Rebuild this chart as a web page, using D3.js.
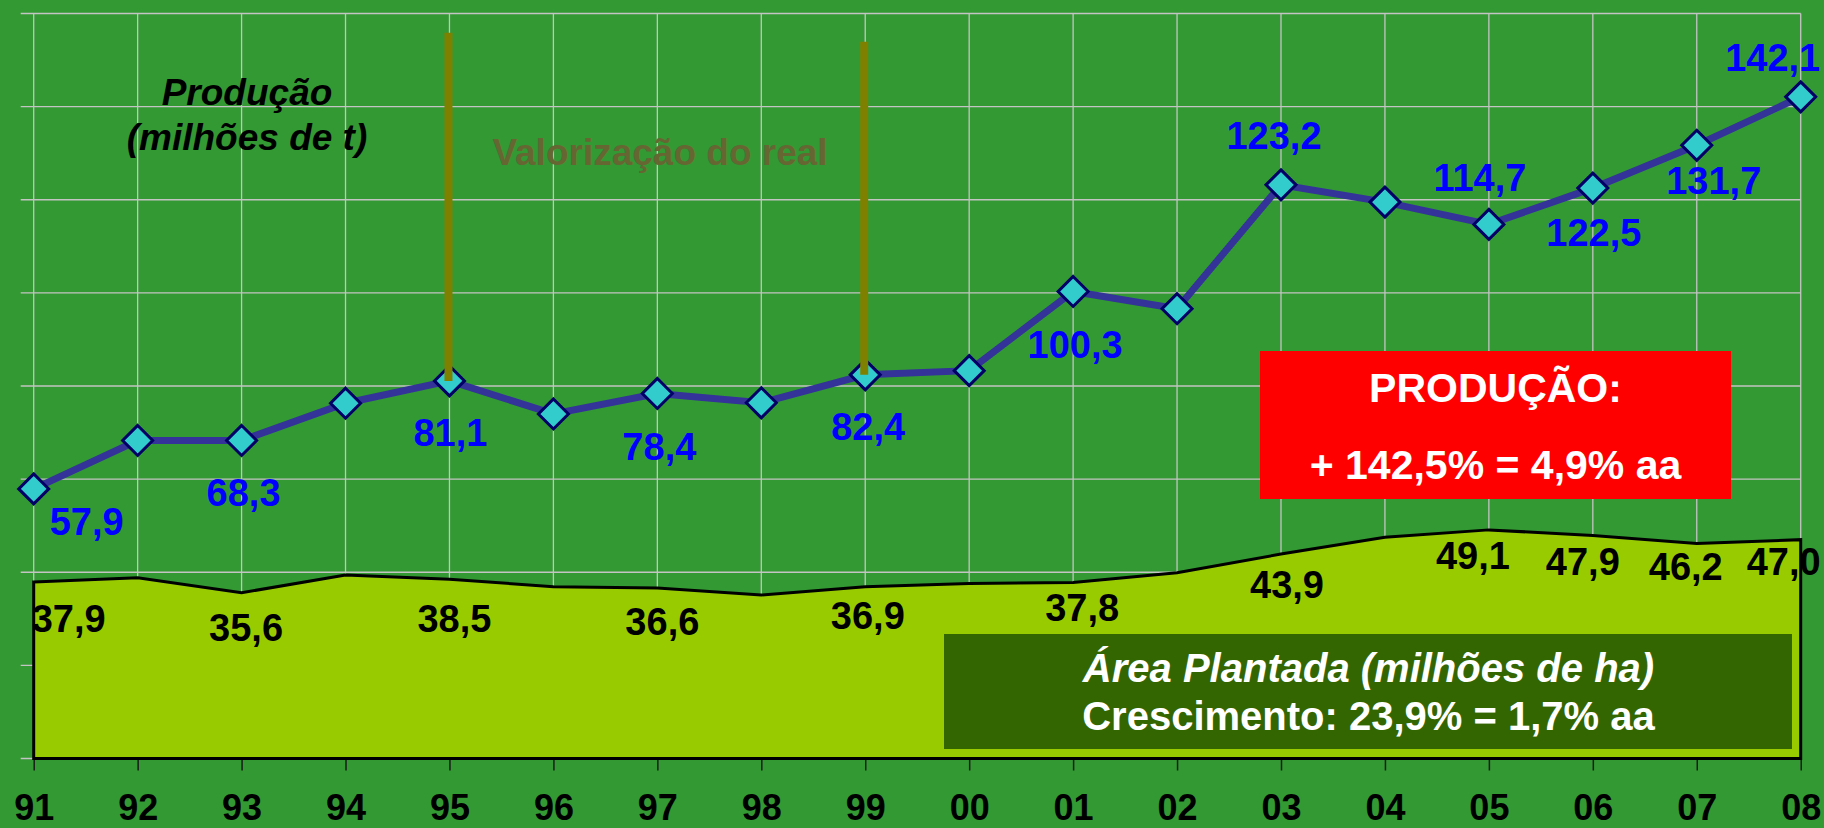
<!DOCTYPE html>
<html>
<head>
<meta charset="utf-8">
<script src="https://cdn.jsdelivr.net/npm/d3@7"></script>
<style>
  html, body { margin: 0; padding: 0; background: #339933; overflow: hidden; }
  svg { display: block; font-family: "Liberation Sans", Arial, sans-serif; }
</style>
</head>
<body>
<svg id="chart" width="1824" height="828"></svg>
<script>
// ---------- data ----------
const years = ["91","92","93","94","95","96","97","98","99","00","01","02","03","04","05","06","07","08"];
const production = [57.9, 68.3, 68.3, 76.3, 81.1, 74.0, 78.4, 76.4, 82.4, 83.3, 100.3, 96.6, 123.2, 119.5, 114.7, 122.5, 131.7, 142.1];
const area = [37.9, 38.8, 35.6, 39.4, 38.5, 36.9, 36.6, 35.1, 36.9, 37.6, 37.8, 39.9, 43.9, 47.5, 49.1, 47.9, 46.2, 47.0];
const yTicks = [0, 20, 40, 60, 80, 100, 120, 140, 160];
const labeledProdYears = ["91","93","95","97","99","01","03","05","06","07","08"];
const labeledAreaYears = ["91","93","95","97","99","01","03","05","06","07","08"];
const markerYears = ["95", "99"];
const prodTitle = ["Produção", "(milhões de t)"];
const valorizacao = "Valorização do real";
const redBoxLines = ["PRODUÇÃO:", "+ 142,5% = 4,9% aa"];
const greenBoxLines = ["Área Plantada (milhões de ha)", "Crescimento: 23,9% = 1,7% aa"];

// ---------- layout (label offsets relative to the point) ----------
const prodLabelOffset = {
  "91": [53, 46], "93": [2, 66], "95": [1, 65], "97": [2, 66.5], "99": [3, 65],
  "01": [2, 66.5], "03": [-7, -36], "05": [-9, -33], "06": [1, 57.6], "07": [17, 49], "08": [-28, -26]
};
const areaLabelOffset = {
  "91": [35, 50], "93": [4.5, 48], "95": [5, 52.5], "97": [5, 47], "99": [2.6, 42.6],
  "01": [9, 38.5], "03": [6, 44], "05": [-16, 39.4], "06": [-10, 39.5], "07": [-11, 36.6], "08": [-17, 35]
};

const svg = d3.select("#chart");
const W = 1824, H = 828;
const x0 = 33.7, x1 = 1800.7, yTop = 13.5, yBot = 758.5;

const x = d3.scalePoint().domain(years).range([x0, x1]);
const y = d3.scaleLinear().domain([0, 160]).range([yBot, yTop]);

svg.append("rect").attr("width", W).attr("height", H).attr("fill", "#339933");

// grid
const grid = svg.append("g").attr("stroke", "#c4c4c4").attr("stroke-width", 1.3);
grid.selectAll("line.h").data(yTicks).join("line")
  .attr("x1", x0 - 13).attr("x2", x1)
  .attr("y1", d => y(d)).attr("y2", d => y(d));
grid.selectAll("line.v").data(years).join("line")
  .attr("x1", d => x(d)).attr("x2", d => x(d))
  .attr("y1", yTop).attr("y2", yBot);

// bottom axis (ticks + labels)
const xAxis = d3.axisBottom(x).tickSize(12).tickSizeOuter(0);
const gx = svg.append("g").attr("transform", `translate(0,${yBot})`).call(xAxis);
gx.select(".domain").remove();
gx.selectAll(".tick line").attr("stroke", "#1a1a1a").attr("stroke-width", 1.5);
gx.selectAll(".tick text")
  .attr("y", 820 - yBot).attr("dy", 0)
  .attr("fill", "#000").attr("font-size", 36).attr("font-weight", "bold")
  .attr("font-family", "Liberation Sans, Arial, sans-serif");

// area
const areaGen = d3.area().x((d, i) => x(years[i])).y0(y(0)).y1(d => y(d));
svg.append("path").datum(area)
  .attr("d", areaGen)
  .attr("fill", "#99cc00")
  .attr("stroke", "#000").attr("stroke-width", 3).attr("stroke-linejoin", "miter");

// production line
const lineGen = d3.line().x((d, i) => x(years[i])).y(d => y(d));
svg.append("path").datum(production)
  .attr("d", lineGen)
  .attr("fill", "none").attr("stroke", "#333399").attr("stroke-width", 7);

// markers
const r = 15;
svg.append("g").selectAll("path").data(production).join("path")
  .attr("transform", (d, i) => `translate(${x(years[i])},${y(d)})`)
  .attr("d", `M0,${-r}L${r},0L0,${r}L${-r},0Z`)
  .attr("fill", "#33cccc").attr("stroke", "#000066").attr("stroke-width", 3);

// olive vertical lines (valorização do real)
const oliveTop = { "95": 32.7, "99": 41.7 };
svg.append("g").selectAll("line").data(markerYears).join("line")
  .attr("x1", d => x(d) - 1).attr("x2", d => x(d) - 1)
  .attr("y1", d => oliveTop[d])
  .attr("y2", d => y(production[years.indexOf(d)]))
  .attr("stroke", "#808000").attr("stroke-width", 8);

svg.append("text").text(valorizacao)
  .attr("x", 660).attr("y", 165).attr("text-anchor", "middle")
  .attr("font-size", 37).attr("font-weight", "bold").attr("fill", "#666633");

// production title
svg.append("g").selectAll("text").data(prodTitle).join("text")
  .text(d => d)
  .attr("x", 247).attr("y", (d, i) => 105 + i * 45)
  .attr("text-anchor", "middle")
  .attr("font-size", 37).attr("font-weight", "bold").attr("font-style", "italic")
  .attr("fill", "#000");

// production labels
svg.append("g").selectAll("text").data(labeledProdYears).join("text")
  .text(d => d3.format(".1f")(production[years.indexOf(d)]).replace(".", ","))
  .attr("x", d => x(d) + prodLabelOffset[d][0])
  .attr("y", d => y(production[years.indexOf(d)]) + prodLabelOffset[d][1])
  .attr("text-anchor", "middle")
  .attr("font-size", 38).attr("font-weight", "bold").attr("fill", "#0000ff");

// area labels
svg.append("g").selectAll("text").data(labeledAreaYears).join("text")
  .text(d => d3.format(".1f")(area[years.indexOf(d)]).replace(".", ","))
  .attr("x", d => x(d) + areaLabelOffset[d][0])
  .attr("y", d => y(area[years.indexOf(d)]) + areaLabelOffset[d][1])
  .attr("text-anchor", "middle")
  .attr("font-size", 38).attr("font-weight", "bold").attr("fill", "#000");

// red box
svg.append("rect").attr("x", 1260).attr("y", 351).attr("width", 471).attr("height", 148).attr("fill", "#ff0000");
svg.append("g").selectAll("text").data(redBoxLines).join("text")
  .text(d => d)
  .attr("x", 1495.5).attr("y", (d, i) => i === 0 ? 401.5 : 479.3)
  .attr("text-anchor", "middle")
  .attr("font-size", 41).attr("font-weight", "bold").attr("fill", "#fff");

// dark green box
svg.append("rect").attr("x", 944).attr("y", 634).attr("width", 848).attr("height", 115).attr("fill", "#336600");
svg.append("g").selectAll("text").data(greenBoxLines).join("text")
  .text(d => d)
  .attr("x", 1368.5).attr("y", (d, i) => i === 0 ? 681.7 : 730)
  .attr("text-anchor", "middle")
  .attr("font-size", 40).attr("font-weight", "bold")
  .attr("font-style", (d, i) => i === 0 ? "italic" : "normal")
  .attr("fill", "#fff");
</script>
</body>
</html>
